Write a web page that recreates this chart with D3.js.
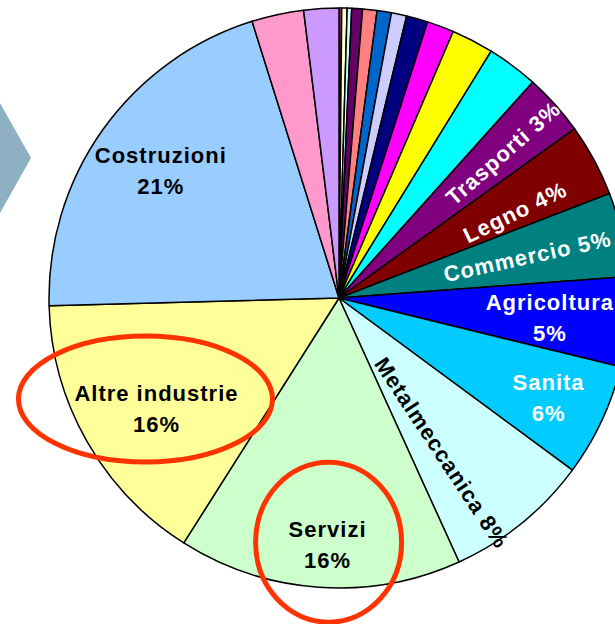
<!DOCTYPE html>
<html>
<head>
<meta charset="utf-8">
<script src="https://cdn.jsdelivr.net/npm/d3@7"></script>
<style>
  body { margin: 0; background: #fff; overflow: hidden; }
  svg { display: block; }
  .lbl { font-family: "Liberation Sans", Arial, sans-serif; font-weight: bold; font-size: 22px; letter-spacing: 1px; }
</style>
</head>
<body>
<script>
// slices in clockwise order from 12 o'clock, "" = slice without a label
const categories = ["", "", "", "", "", "", "", "", "", "", "",
  "Trasporti", "Legno", "Commercio", "Agricoltura", "Sanita",
  "Metalmeccanica", "Servizi", "Altre industrie", "Costruzioni", "", ""];
const values = [0.15, 0.3, 0.25, 0.6, 0.8, 0.8, 0.85, 1.2, 1.5, 2.35, 2.85,
  3.45, 4.05, 4.7, 5.0, 6.3, 8.1, 15.8, 15.6, 20.6, 2.9, 1.95];
const colors = ["#993366", "#ffffcc", "#ccffff", "#660066", "#ff8080", "#0066cc",
  "#ccccff", "#000080", "#ff00ff", "#ffff00", "#00ffff", "#800080", "#800000",
  "#008080", "#0000ff", "#00ccff", "#ccffff", "#ccffcc", "#ffff99", "#99ccff",
  "#ff99cc", "#cc99ff"];
const highlighted = ["Altre industrie", "Servizi"];

let width = 615, height = 624;
let cx = 339, cy = 298, radius = 290;
let svg = null;
let arcs = null;
let total = d3.sum(values);

// label placement: r = fraction of radius, da = angle nudge (deg), rot = along the radius
const labelLayout = {
  "Trasporti":       {r: 0.755, da: 0.5,  rot: true,  fill: "#fff"},
  "Legno":           {r: 0.675, da: 2.5,  rot: true,  fill: "#fff"},
  "Commercio":       {r: 0.665, da: 0.3,  rot: true,  fill: "#fff"},
  "Agricoltura":     {r: 0.73,  da: 0.5,  rot: false, fill: "#fff"},
  "Sanita":          {r: 0.80,  da: 0.3,  rot: false, fill: "#fff"},
  "Metalmeccanica":  {r: 0.64,  da: 5.5,  rot: true,  fill: "#000"},
  "Servizi":         {r: 0.85,  da: -1.3, rot: false, fill: "#000"},
  "Altre industrie": {r: 0.735, da: -1.5, rot: false, fill: "#000"},
  "Costruzioni":     {r: 0.755, da: 0,    rot: false, fill: "#000"}
};

appendSvg("body");
appendChevron();
appendSlices();
appendLabels();
appendHighlights();

function appendSvg(domElement) {
  svg = d3.select(domElement).append("svg")
    .attr("width", width)
    .attr("height", height);
}

function appendChevron() {
  svg.append("path")
    .attr("d", "M-40,103 L0,103 L31,158 L0,213 L-40,213 L-9,158 Z")
    .style("fill", "#8fb0c2");
}

function appendSlices() {
  let color = d3.scaleOrdinal().domain(d3.range(values.length)).range(colors);
  let pie = d3.pie().sort(null).value(function(d) { return d; });
  let arc = d3.arc().innerRadius(0).outerRadius(radius);

  arcs = pie(values);

  svg.append("g")
    .attr("transform", `translate(${cx}, ${cy})`)
    .selectAll("path")
    .data(arcs)
    .enter()
    .append("path")
    .attr("d", arc)
    .style("fill", function(d, i) { return color(i); })
    .style("stroke", "#000")
    .style("stroke-width", 1.5)
    .style("stroke-linejoin", "round");
}

function labelPos(d) {
  let lay = labelLayout[categories[d.index]];
  let mid = (d.startAngle + d.endAngle) / 2 + lay.da * Math.PI / 180;
  let r = radius * lay.r;
  return {x: cx + r * Math.sin(mid), y: cy - r * Math.cos(mid), deg: mid * 180 / Math.PI, lay: lay};
}

function appendLabels() {
  let g = svg.append("g");
  arcs.forEach(function(d) {
    let name = categories[d.index];
    if (!name) return;
    let p = labelPos(d);
    let pct = Math.round(d.value / total * 100) + "%";
    if (p.lay.rot) {
      g.append("text")
        .attr("class", "lbl")
        .attr("text-anchor", "middle")
        .attr("dominant-baseline", "central")
        .attr("transform", `translate(${p.x}, ${p.y}) rotate(${p.deg - 90})`)
        .style("fill", p.lay.fill)
        .text(name + " " + pct);
    } else {
      let t = g.append("text")
        .attr("class", "lbl")
        .attr("text-anchor", "middle")
        .style("fill", p.lay.fill);
      t.append("tspan").attr("x", p.x).attr("y", p.y - 7.5).text(name);
      t.append("tspan").attr("x", p.x).attr("y", p.y + 23.5).text(pct);
    }
  });
}

function appendHighlights() {
  let rings = {
    "Altre industrie": {dx: -11, dy: -9, rx: 127, ry: 63},
    "Servizi": {dx: 1, dy: -2, rx: 73, ry: 80}
  };
  arcs.forEach(function(d) {
    let name = categories[d.index];
    if (highlighted.indexOf(name) < 0) return;
    let p = labelPos(d);
    let e = rings[name];
    svg.append("ellipse")
      .attr("cx", p.x + e.dx)
      .attr("cy", p.y + e.dy)
      .attr("rx", e.rx)
      .attr("ry", e.ry)
      .style("fill", "none")
      .style("stroke", "#ff3300")
      .style("stroke-width", 5);
  });
}
</script>
</body>
</html>
